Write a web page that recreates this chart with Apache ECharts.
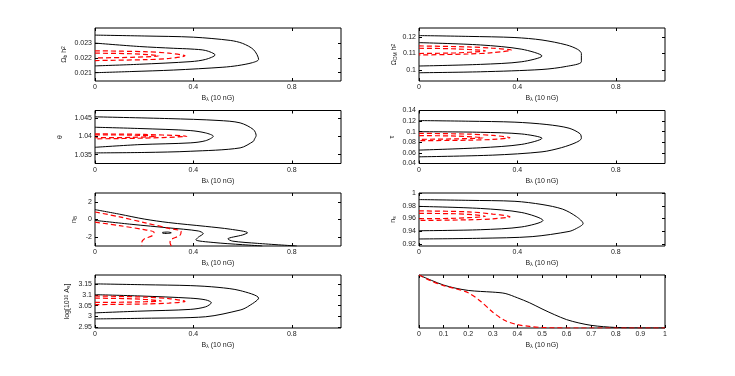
<!DOCTYPE html>
<html>
<head>
<meta charset="utf-8">
<script src="https://cdn.jsdelivr.net/npm/echarts@6/dist/echarts.min.js"></script>
<style>
html, body { margin: 0; padding: 0; background: #fff; }
#chart { width: 735px; height: 376px; }
</style>
</head>
<body>
<div id="chart"></div>
<script>
// contours: [B, parameter] pairs, black = solid, red = dashed

// Omega_b h^2
const obOuter = [[0,0.02354],[0.2,0.02348],[0.4,0.0234],[0.55,0.02318],[0.6,0.02298],[0.645,0.02255],[0.665,0.0219],[0.64,0.02168],[0.58,0.02148],[0.52,0.02137],[0.32,0.02118],[0.15,0.02108],[0,0.021]];
const obInner = [[0,0.023],[0.18,0.02277],[0.32,0.02265],[0.39,0.0226],[0.45,0.0225],[0.488,0.0222],[0.45,0.0219],[0.39,0.02175],[0.18,0.02157],[0,0.02146]];
const obRedOuter = [[0,0.02248],[0.2,0.02242],[0.3,0.02232],[0.366,0.02214],[0.3,0.02196],[0.2,0.02188],[0,0.02182]];
const obRedInner = [[0,0.02232],[0.15,0.02228],[0.26,0.02214],[0.15,0.02204],[0,0.022]];

// theta
const thOuter = [[0,1.04528],[0.3,1.0448],[0.5,1.0443],[0.59,1.04364],[0.644,1.04182],[0.655,1.0402],[0.648,1.0392],[0.644,1.03864],[0.59,1.03684],[0.387,1.03592],[0.2,1.0356],[0,1.03548]];
const thInner = [[0,1.04245],[0.183,1.0421],[0.387,1.04155],[0.45,1.0409],[0.481,1.04],[0.45,1.0388],[0.387,1.0382],[0.183,1.03774],[0,1.037]];
const thRedOuter = [[0,1.04065],[0.2,1.0405],[0.373,1.04],[0.2,1.0395],[0,1.0393]];
const thRedInner = [[0,1.0404],[0.15,1.0403],[0.25,1.04],[0.15,1.0397],[0,1.0396]];

// n_B
const nbOuter = [[0,1.12],[0.1,0.6],[0.2,0.05],[0.3,-0.35],[0.45,-0.78],[0.55,-1.1],[0.62,-1.5],[0.6,-1.75],[0.54,-2.2],[0.56,-2.45],[0.66,-2.7],[0.82,-3.0]];
const nbInner = [[0,-0.1],[0.15,-0.55],[0.3,-0.95],[0.42,-1.3],[0.44,-1.6],[0.42,-2.0],[0.41,-2.3],[0.48,-2.6],[0.6,-2.85],[0.68,-3.0]];
const nbBlob = [[0.275,-1.45],[0.295,-1.42],[0.31,-1.5],[0.295,-1.58],[0.275,-1.55],[0.275,-1.45]];
const nbRedOuter = [[0,0.85],[0.1,0.3],[0.2,-0.35],[0.3,-1.0],[0.35,-1.35],[0.345,-1.8],[0.31,-2.25],[0.305,-2.6],[0.31,-3]];
const nbRedInner = [[0,-0.3],[0.1,-0.7],[0.2,-1.15],[0.24,-1.45],[0.235,-1.8],[0.2,-2.2],[0.19,-2.6],[0.19,-3]];

// log[10^10 A_s]
const asOuter = [[0,3.151],[0.2,3.147],[0.387,3.143],[0.5,3.135],[0.59,3.12],[0.665,3.085],[0.62,3.045],[0.59,3.03],[0.45,2.999],[0.2,2.992],[0,2.989]];
const asInner = [[0,3.101],[0.183,3.095],[0.387,3.085],[0.45,3.077],[0.473,3.064],[0.45,3.045],[0.387,3.033],[0.183,3.025],[0,3.017]];
const asRedOuter = [[0,3.095],[0.2,3.09],[0.3,3.083],[0.366,3.07],[0.3,3.062],[0.2,3.058],[0,3.055]];
const asRedInner = [[0,3.085],[0.15,3.082],[0.27,3.072],[0.15,3.067],[0,3.065]];

// Omega_DM h^2
const dmOuter = [[0,0.1209],[0.2,0.1204],[0.39,0.1197],[0.5,0.1182],[0.6,0.1152],[0.645,0.1125],[0.66,0.11],[0.66,0.105],[0.6,0.1022],[0.5,0.1003],[0.25,0.0989],[0,0.0983]];
const dmInner = [[0,0.1166],[0.25,0.1152],[0.418,0.1126],[0.5,0.1085],[0.418,0.105],[0.25,0.1034],[0,0.1024]];
const dmRedOuter = [[0,0.1146],[0.2,0.114],[0.3,0.1132],[0.376,0.1121],[0.3,0.1105],[0.2,0.1097],[0,0.1091]];
const dmRedInner = [[0,0.1132],[0.15,0.1128],[0.27,0.1116],[0.15,0.1104],[0,0.11]];

// tau
const tauOuter = [[0,0.121],[0.2,0.1198],[0.39,0.118],[0.52,0.1135],[0.61,0.1066],[0.655,0.096],[0.66,0.0875],[0.64,0.08],[0.58,0.07],[0.5,0.062],[0.3,0.0558],[0,0.0526]];
const tauInner = [[0,0.1],[0.25,0.0989],[0.418,0.0957],[0.5,0.0875],[0.418,0.0761],[0.25,0.0697],[0,0.0653]];
const tauRedOuter = [[0,0.097],[0.2,0.0955],[0.3,0.093],[0.37,0.0887],[0.3,0.0855],[0.2,0.084],[0,0.083]];
const tauRedInner = [[0,0.0925],[0.15,0.0918],[0.26,0.0885],[0.15,0.0865],[0,0.0856]];

// n_s
const nsOuter = [[0,0.9897],[0.2,0.9885],[0.39,0.987],[0.5,0.982],[0.584,0.9747],[0.64,0.963],[0.667,0.9522],[0.64,0.9445],[0.61,0.9398],[0.46,0.9317],[0.25,0.9291],[0,0.928]];
const nsInner = [[0,0.979],[0.25,0.9758],[0.418,0.9694],[0.504,0.957],[0.418,0.9469],[0.25,0.9425],[0,0.9409]];
const nsRedOuter = [[0,0.972],[0.2,0.9705],[0.3,0.967],[0.37,0.963],[0.3,0.9595],[0.2,0.958],[0,0.957]];
const nsRedInner = [[0,0.968],[0.15,0.9675],[0.27,0.9635],[0.15,0.9605],[0,0.9597]];

// 1D likelihood of B
const likeX = [0,0.05,0.1,0.15,0.2,0.25,0.3,0.35,0.4,0.45,0.5,0.55,0.6,0.65,0.7,0.75,0.8,0.85,0.9,0.95,1];
const likeBlack = [1,0.9,0.81,0.75,0.709,0.69,0.677,0.652,0.57,0.475,0.36,0.253,0.158,0.095,0.05,0.025,0.01,0.003,0,0,0];
const likeRed = [1,0.886,0.8,0.74,0.665,0.506,0.297,0.14,0.063,0.03,0.01,0.003,0,0,0,0,0,0,0,0,0];

// tick labels
const bTicksCoarse = [0, 0.4, 0.8];
const bTicksFine = [0,0.1,0.2,0.3,0.4,0.5,0.6,0.7,0.8,0.9,1];
const obTicks = [0.021, 0.022, 0.023];
const thTicks = [1.035, 1.04, 1.045];
const nbTicks = [-2, 0, 2];
const asTicks = [2.95, 3, 3.05, 3.1, 3.15];
const dmTicks = [0.1, 0.11, 0.12];
const tauTicks = [0.04, 0.06, 0.08, 0.1, 0.12, 0.14];
const nsTicks = [0.92, 0.94, 0.96, 0.98, 1];

const FONT = 'Liberation Sans';
const rich = {
    sub: { fontSize: 5, fontFamily: FONT, color: '#222', verticalAlign: 'bottom', lineHeight: 6 },
    sup: { fontSize: 5, fontFamily: FONT, color: '#222', verticalAlign: 'top', lineHeight: 6 }
};
const bName = 'B{sub|λ} (10 nG)';

const panels = [
    { left: 95, top: 28, yMin: 0.02044, yMax: 0.02402, yTicks: obTicks, yName: 'Ω{sub|b} h{sup|2}', yGap: 27, curves: [obOuter, obInner], red: [obRedOuter, obRedInner] },
    { left: 95, top: 110.5, yMin: 1.0326, yMax: 1.047, yTicks: thTicks, yName: 'θ', yGap: 31, curves: [thOuter, thInner], red: [thRedOuter, thRedInner] },
    { left: 95, top: 193, yMin: -3, yMax: 3, yTicks: nbTicks, yName: 'n{sub|B}', yGap: 17, curves: [nbOuter, nbInner, nbBlob], red: [nbRedOuter, nbRedInner] },
    { left: 95, top: 275, yMin: 2.947, yMax: 3.192, yTicks: asTicks, yName: 'log[10{sup|10} A{sub|s}]', yGap: 24, curves: [asOuter, asInner], red: [asRedOuter, asRedInner] },
    { left: 419, top: 28, yMin: 0.0933, yMax: 0.1255, yTicks: dmTicks, yName: 'Ω{sub|DM} h{sup|2}', yGap: 21, curves: [dmOuter, dmInner], red: [dmRedOuter, dmRedInner] },
    { left: 419, top: 110.5, yMin: 0.04, yMax: 0.14, yTicks: tauTicks, yName: 'τ', yGap: 23, curves: [tauOuter, tauInner], red: [tauRedOuter, tauRedInner] },
    { left: 419, top: 193, yMin: 0.917, yMax: 1.0, yTicks: nsTicks, yName: 'n{sub|s}', yGap: 22, curves: [nsOuter, nsInner], red: [nsRedOuter, nsRedInner] },
    { left: 419, top: 275, yMin: 0, yMax: 1, yTicks: [], yName: '', yGap: 20, xTicks: bTicksFine,
      curves: [likeX.map((x, i) => [x, likeBlack[i]])], red: [likeX.map((x, i) => [x, likeRed[i]])] }
];

const grid = [], xAxis = [], yAxis = [], series = [];

panels.forEach((p, gi) => {
    grid.push({ left: p.left, top: p.top, width: 246, height: 53, show: true,
        borderColor: '#000', borderWidth: 1, backgroundColor: 'transparent',
        containLabel: false, outerBoundsMode: 'none' });
    const xt = p.xTicks || bTicksCoarse;
    const tick = (vals) => ({ show: vals.length > 0, inside: true, length: 3, customValues: vals, lineStyle: { color: '#000', width: 1 } });
    const lab = (vals) => ({ customValues: vals, fontSize: 7, fontFamily: FONT, color: '#222', margin: 3 });
    const line = { show: false, onZero: false };
    // bottom + top x axes (matlab box ticks)
    xAxis.push({ type: 'value', gridIndex: gi, min: 0, max: 1, position: 'bottom',
        axisLine: line, splitLine: { show: false },
        axisTick: tick(xt), axisLabel: lab(xt),
        name: bName, nameLocation: 'middle', nameGap: 14,
        nameTextStyle: { fontSize: 7, fontFamily: FONT, color: '#222', rich: rich } });
    xAxis.push({ type: 'value', gridIndex: gi, min: 0, max: 1, position: 'top',
        axisLine: line, splitLine: { show: false },
        axisTick: tick(xt), axisLabel: { show: false } });
    yAxis.push({ type: 'value', gridIndex: gi, min: p.yMin, max: p.yMax, position: 'left',
        axisLine: line, splitLine: { show: false },
        axisTick: tick(p.yTicks), axisLabel: Object.assign(lab(p.yTicks), { show: p.yTicks.length > 0 }),
        name: p.yName, nameLocation: 'middle', nameGap: p.yGap,
        nameTextStyle: { fontSize: 7, fontFamily: FONT, color: '#222', rich: rich } });
    yAxis.push({ type: 'value', gridIndex: gi, min: p.yMin, max: p.yMax, position: 'right',
        axisLine: line, splitLine: { show: false },
        axisTick: tick(p.yTicks), axisLabel: { show: false } });

    p.curves.forEach((c) => {
        series.push({ type: 'line', xAxisIndex: gi * 2, yAxisIndex: gi * 2, data: c,
            showSymbol: false, symbol: 'none', smooth: 0.3, clip: true, silent: true,
            lineStyle: { color: '#000', width: 1 }, z: 2 });
    });
    p.red.forEach((c) => {
        series.push({ type: 'line', xAxisIndex: gi * 2, yAxisIndex: gi * 2, data: c,
            showSymbol: false, symbol: 'none', smooth: 0.3, clip: true, silent: true,
            lineStyle: { color: '#ff0000', width: 1.2, type: [5, 3] }, z: 3 });
    });
});

const myChart = echarts.init(document.getElementById('chart'), null, { renderer: 'canvas' });
myChart.setOption({ animation: false, backgroundColor: '#fff', grid, xAxis, yAxis, series });
</script>
</body>
</html>
